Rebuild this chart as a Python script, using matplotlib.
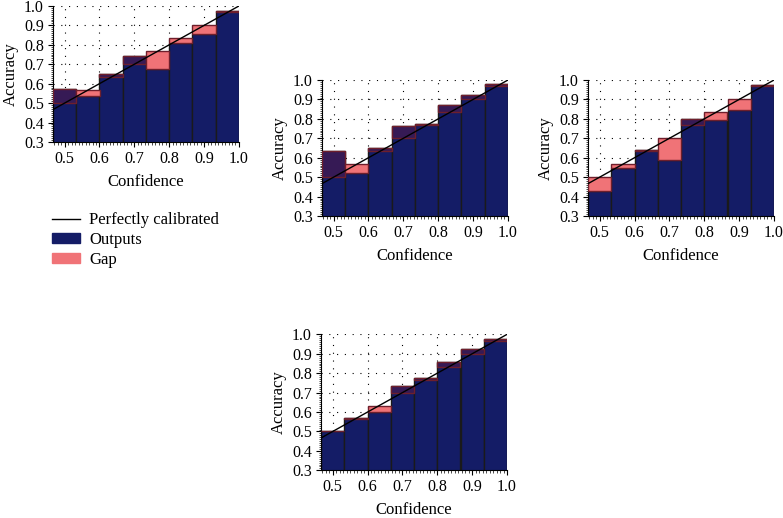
import matplotlib

matplotlib.use("Agg")
import matplotlib.pyplot as plt
import numpy as np
from matplotlib.lines import Line2D
from matplotlib.patches import Patch
from matplotlib.ticker import MultipleLocator

plt.rcParams["font.family"] = ["Liberation Serif", "DejaVu Serif"]

# bin centres (15 bins over [0, 1], only the upper 8 are shown)
bin_centers = [0.5, 0.5667, 0.6333, 0.7, 0.7667, 0.8333, 0.9, 0.9667]
bin_width = 1.0 / 15

# accuracy per bin, one list per panel
acc_top_left = [0.572, 0.536, 0.652, 0.742, 0.678, 0.810, 0.855, 0.972]
acc_top_mid = [0.635, 0.523, 0.652, 0.764, 0.772, 0.871, 0.922, 0.978]
acc_top_right = [0.430, 0.548, 0.638, 0.587, 0.797, 0.794, 0.845, 0.972]
acc_bottom = [0.503, 0.570, 0.598, 0.735, 0.773, 0.856, 0.925, 0.974]

x_ticks = [0.5, 0.6, 0.7, 0.8, 0.9, 1.0]
y_ticks = [0.3, 0.4, 0.5, 0.6, 0.7, 0.8, 0.9, 1.0]

_NAVY = "#141c66"
_PINK = "#f07377"
_PURPLE = "#361a55"
_GAP_EDGE = "#6e1f2c"


def _draw_panel(ax, accs):
    centers = np.array(bin_centers)
    accs = np.array(accs)
    ax.grid(True, color="black", linestyle=(0, (1, 6)), linewidth=0.8, zorder=0)
    ax.set_axisbelow(True)
    ax.bar(centers, accs, width=bin_width, color=_NAVY, edgecolor="#1a1a1a",
           linewidth=1.0, zorder=2)
    over = accs > centers
    gap_colors = [_PURPLE if o else _PINK for o in over]
    ax.bar(centers, np.abs(accs - centers), bottom=np.minimum(accs, centers),
           width=bin_width, color=gap_colors, edgecolor=_GAP_EDGE, linewidth=1.0,
           zorder=3)
    ax.plot([0, 1], [0, 1], color="black", linewidth=1.0, zorder=4)

    ax.set_xlim(centers[0] - bin_width / 2, 1.0)
    ax.set_ylim(0.3, 1.0)
    ax.set_xticks(x_ticks)
    ax.set_yticks(y_ticks)
    ax.set_xticklabels([f"{t:.1f}" for t in x_ticks])
    ax.set_yticklabels([f"{t:.1f}" for t in y_ticks])
    ax.xaxis.set_minor_locator(MultipleLocator(0.01))
    ax.yaxis.set_minor_locator(MultipleLocator(0.01))
    ax.tick_params(which="major", direction="out", length=3.5, width=0.8,
                   labelsize=11.5, pad=3)
    ax.tick_params(which="minor", direction="out", length=1.8, width=0.5)
    ax.spines["top"].set_visible(False)
    ax.spines["right"].set_visible(False)
    ax.set_xlabel("Confidence", fontsize=12, labelpad=5)
    ax.set_ylabel("Accuracy", fontsize=12, labelpad=4)


fig = plt.figure(figsize=(7.83, 5.18), dpi=100, facecolor="white")
w, h = 0.2375, 0.2625
positions = [
    (0.0677, 0.726),
    (0.4112, 0.583),
    (0.751, 0.583),
    (0.410, 0.092),
]
for (left, bottom), accs in zip(
    positions, (acc_top_left, acc_top_mid, acc_top_right, acc_bottom)
):
    ax = fig.add_axes([left, bottom, w, h])
    _draw_panel(ax, accs)

handles = [
    Line2D([0], [0], color="black", linewidth=1.0),
    Patch(facecolor=_NAVY, edgecolor=_NAVY),
    Patch(facecolor=_PINK, edgecolor=_PINK),
]
fig.legend(
    handles,
    ["Perfectly calibrated", "Outputs", "Gap"],
    loc="upper left",
    bbox_to_anchor=(0.047, 1 - 197 / 518),
    frameon=False,
    fontsize=12,
    handlelength=1.7,
    handleheight=0.55,
    labelspacing=0.25,
    handletextpad=0.55,
)

fig.savefig("out.png", dpi=100, facecolor="white")
plt.close(fig)
